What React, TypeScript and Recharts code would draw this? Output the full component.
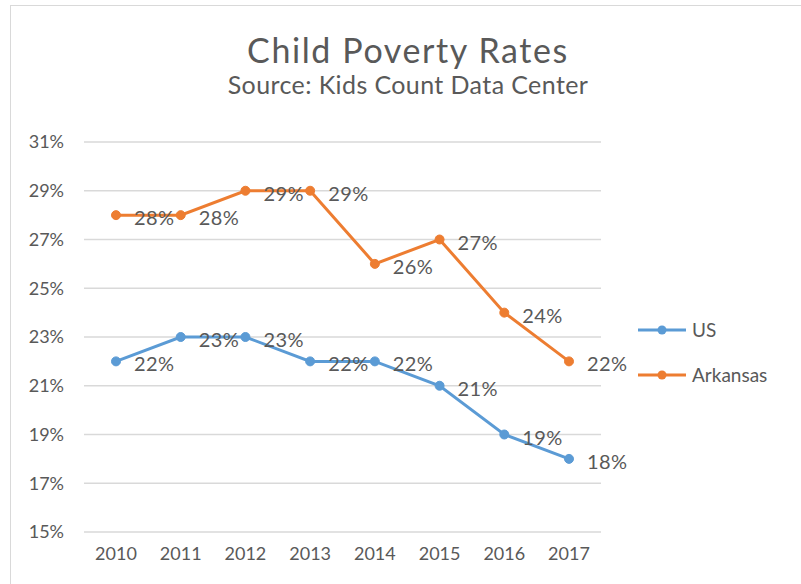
import React from 'react';
import { LineChart, Line, XAxis, YAxis, CartesianGrid, Legend, LabelList } from 'recharts';

const years = ['2010', '2011', '2012', '2013', '2014', '2015', '2016', '2017'];
const usRates = [22, 23, 23, 22, 22, 21, 19, 18];
const arkansasRates = [28, 28, 29, 29, 26, 27, 24, 22];
const yTicks = [15, 17, 19, 21, 23, 25, 27, 29, 31];

const FONT = 'Lato, "Noto Sans", sans-serif';
const TEXT = '#595959';
const BLUE = '#5B9BD5';
const ORANGE = '#ED7D31';

const data = years.map((year, i) => ({ year, us: usRates[i], arkansas: arkansasRates[i] }));

// data labels sit to the right of each point, like Excel's "Right" placement
const renderLabel = (props: any) => {
  const { x, y, value } = props;
  return (
    <text x={x + 18} y={y + 5} fill={TEXT} fontSize={20} letterSpacing={0.4} fontFamily={FONT} dominantBaseline="middle">
      {value}%
    </text>
  );
};

const renderLegend = () => (
  <div style={{ fontFamily: FONT, fontSize: 19, color: TEXT }}>
    {[{ name: 'US', color: BLUE }, { name: 'Arkansas', color: ORANGE }].map((item) => (
      <div key={item.name} style={{ display: 'flex', alignItems: 'center', height: 45 }}>
        <svg width={50} height={12} style={{ marginRight: 5 }}>
          <line x1={1} y1={6} x2={49} y2={6} stroke={item.color} strokeWidth={3} />
          <circle cx={25} cy={6} r={4.5} fill={item.color} />
        </svg>
        <span>{item.name}</span>
      </div>
    ))}
  </div>
);

export default function App() {
  return (
    <div style={{ position: 'absolute', left: 0, top: 0, width: 801, height: 584, background: '#fff', overflow: 'hidden' }}>
      <div style={{ position: 'absolute', left: 10, top: 5, width: 820, height: 620, border: '1.5px solid #D9D9D9', boxSizing: 'border-box' }} />
      <div style={{ position: 'absolute', left: 0, top: 0 }}>
        {/* right margin + legend box (160) leaves the plot ending at x=601 */}
        <LineChart width={801} height={584} data={data} margin={{ top: 142, right: 40, bottom: 22, left: 0 }}>
          <text x={408} y={63} textAnchor="middle" fill={TEXT} fontSize={34} letterSpacing={1.6} fontFamily={FONT}>
            Child Poverty Rates
          </text>
          <text x={408} y={94} textAnchor="middle" fill={TEXT} fontSize={25} letterSpacing={0.4} fontFamily={FONT}>
            Source: Kids Count Data Center
          </text>
          <CartesianGrid vertical={false} stroke="#D9D9D9" strokeWidth={1.5} />
          <XAxis
            dataKey="year"
            axisLine={false}
            tickLine={false}
            height={30}
            tickMargin={9}
            padding={{ left: 32, right: 32 }}
            tick={{ fill: TEXT, fontSize: 18, fontFamily: FONT }}
          />
          <YAxis
            domain={[15, 31]}
            ticks={yTicks}
            width={84}
            axisLine={false}
            tickLine={false}
            tickMargin={14}
            tickFormatter={(v: number) => `${v}%`}
            tick={{ fill: TEXT, fontSize: 18, fontFamily: FONT }}
          />
          <Legend
            layout="vertical"
            align="right"
            verticalAlign="top"
            content={renderLegend}
            wrapperStyle={{ left: 637, top: 307, width: 160 }}
          />
          <Line
            type="linear"
            dataKey="us"
            name="US"
            stroke={BLUE}
            strokeWidth={3}
            dot={{ r: 4.5, fill: BLUE, stroke: BLUE, strokeWidth: 1 }}
            isAnimationActive={false}
          >
            <LabelList dataKey="us" content={renderLabel} />
          </Line>
          <Line
            type="linear"
            dataKey="arkansas"
            name="Arkansas"
            stroke={ORANGE}
            strokeWidth={3}
            dot={{ r: 4.5, fill: ORANGE, stroke: ORANGE, strokeWidth: 1 }}
            isAnimationActive={false}
          >
            <LabelList dataKey="arkansas" content={renderLabel} />
          </Line>
        </LineChart>
      </div>
    </div>
  );
}
